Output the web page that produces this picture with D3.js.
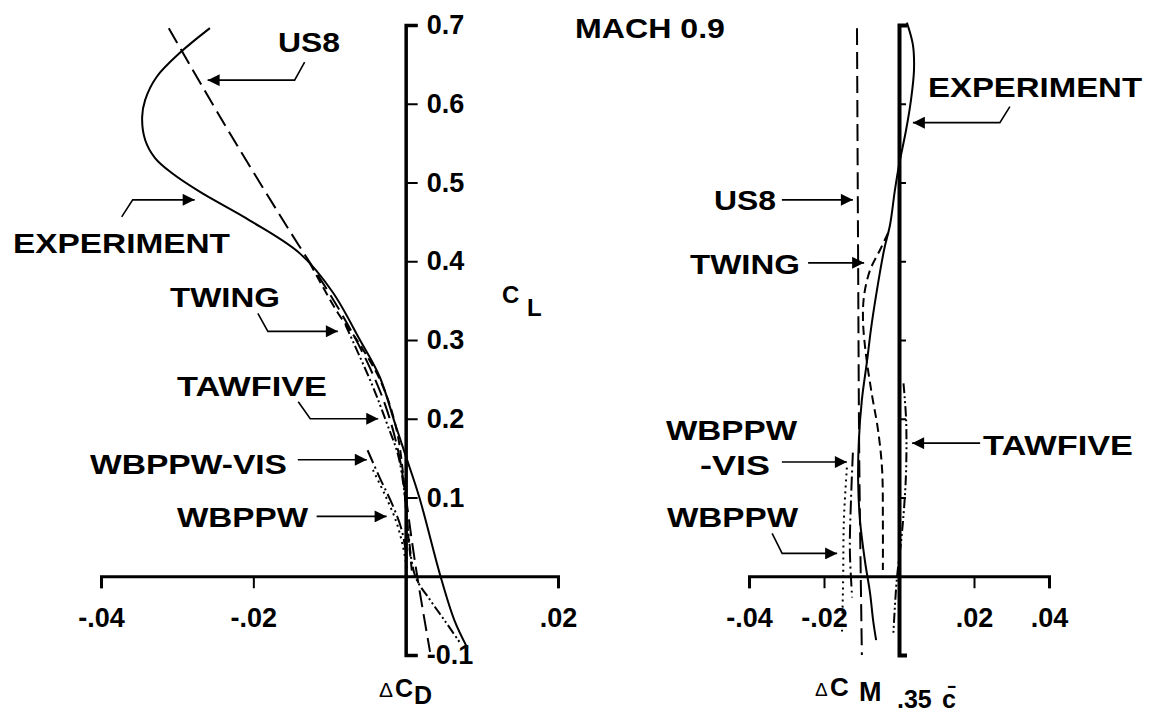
<!DOCTYPE html>
<html>
<head>
<meta charset="utf-8">
<script src="https://cdn.jsdelivr.net/npm/d3@7"></script>
<style>
body { margin: 0; background: #fff; }
text { font-family: "Liberation Sans", Arial, sans-serif; font-weight: bold; fill: #000; }
</style>
</head>
<body>
<script>
//lift axis ticks (shared by both panels)
var clTicks = [-0.1, 0.1, 0.2, 0.3, 0.4, 0.5, 0.6, 0.7];
var cdTicks = [-0.04, -0.02, 0.02];
var cmTicks = [-0.04, -0.02, 0.02, 0.04];

//left panel: [delta CD, CL]
var dragExperiment = [[-0.0257,0.696],[-0.0296,0.665],[-0.0327,0.634],[-0.0342,0.605],[-0.0346,0.583],[-0.0342,0.554],[-0.0329,0.531],[-0.0307,0.512],[-0.0270,0.488],[-0.0205,0.452],[-0.0139,0.410],[-0.0096,0.361],[-0.0060,0.300],[-0.0034,0.253],[-0.0014,0.194],[-0.0001,0.156],[0.0018,0.100],[0.0046,-0.001],[0.0064,-0.056],[0.0081,-0.091]];
var dragUS8 = [[-0.0311,0.696],[-0.0241,0.579],[-0.0161,0.452],[-0.0087,0.338],[-0.0052,0.275],[-0.0027,0.218],[-0.0010,0.160],[-0.0001,0.109],[0.0008,0.046],[0.0016,-0.005],[0.0032,-0.096]];
var dragTWING = [[-0.0126,0.398],[-0.0090,0.336],[-0.0060,0.294],[-0.0037,0.256],[-0.0021,0.218],[-0.0010,0.177],[-0.0004,0.135],[0.0000,0.090],[0.0004,0.046],[0.0009,-0.001]];
var dragTAWFIVE = [[-0.0079,0.319],[-0.0044,0.243],[-0.0025,0.195],[-0.0010,0.154],[-0.0002,0.109],[0.0003,0.059],[0.0013,-0.001],[0.0032,-0.030],[0.0051,-0.056],[0.0071,-0.084]];
var dragWBPPWVIS = [[-0.0050,0.160],[-0.0034,0.125],[-0.0017,0.090],[-0.0005,0.058],[0.0002,0.020]];
var dragWBPPW = [[-0.0043,0.135],[-0.0027,0.103],[-0.0013,0.071],[-0.0004,0.040],[0.0002,0.008]];

//right panel: [delta CM .35c, CL]
var momExperiment = [[0.0021,0.703],[0.0037,0.675],[0.0040,0.643],[0.0032,0.605],[0.0019,0.567],[0.0000,0.522],[-0.0011,0.490],[-0.0024,0.446],[-0.0040,0.414],[-0.0061,0.357],[-0.0075,0.313],[-0.0085,0.274],[-0.0099,0.224],[-0.0107,0.173],[-0.0109,0.122],[-0.0104,0.071],[-0.0091,0.020],[-0.0077,-0.022],[-0.0069,-0.056],[-0.0061,-0.081]];
var momUS8 = [[-0.0112,0.696],[-0.0109,0.400],[-0.0106,0.150],[-0.0102,0.000],[-0.0099,-0.100]];
var momTWING = [[-0.0029,0.436],[-0.0051,0.414],[-0.0077,0.389],[-0.0093,0.357],[-0.0096,0.325],[-0.0088,0.281],[-0.0072,0.230],[-0.0056,0.186],[-0.0045,0.135],[-0.0043,0.071],[-0.0043,0.008]];
var momTAWFIVE = [[0.0012,0.245],[0.0019,0.198],[0.0019,0.135],[0.0014,0.090],[0.0006,0.046],[-0.0006,-0.005],[-0.0015,-0.072]];
var momWBPPWVIS = [[-0.0123,0.157],[-0.0128,0.097],[-0.0131,0.033],[-0.0125,-0.027]];
var momWBPPW = [[-0.0139,0.138],[-0.0147,0.071],[-0.0149,-0.005],[-0.0152,-0.072]];

window.onload = function(){

    var w = 1150,
        h = 715;

    var svg = d3.select("body")
        .append("svg")
        .attr("width", w)
        .attr("height", h);

    //arrow head
    svg.append("defs").append("marker")
        .attr("id", "head")
        .attr("viewBox", "0 0 10 10")
        .attr("refX", 10)
        .attr("refY", 5)
        .attr("markerWidth", 18)
        .attr("markerHeight", 12)
        .attr("markerUnits", "userSpaceOnUse")
        .attr("orient", "auto")
        .append("path")
        .attr("d", "M0,0L10,5L0,10z")
        .style("fill", "#000");

    //scales
    var y = d3.scaleLinear().domain([-0.1, 0.7]).range([655, 25]);
    var xL = d3.scaleLinear().domain([-0.04, 0.02]).range([101, 558]);
    var xR = d3.scaleLinear().domain([-0.04, 0.04]).range([749, 1049]);

    var fmt = function(d){
        return (d < 0 ? "-" : "") + d3.format(".2f")(Math.abs(d)).replace(/^0/, "");
    };

    function styleAxis(g, width, size){
        g.select(".domain").style("stroke-width", width);
        g.selectAll(".tick line").style("stroke-width", 2);
        g.selectAll("text")
            .attr("font-size", size)
            .attr("font-family", "Liberation Sans, Arial, sans-serif")
            .attr("font-weight", "bold");
    }

    //left panel axes
    var gyL = svg.append("g")
        .attr("transform", "translate(" + xL(0) + ",0)")
        .call(d3.axisRight(y).tickValues(clTicks).tickSize(12).tickSizeOuter(12).tickPadding(9)
            .tickFormat(function(d){ return d3.format(".1f")(d).replace("−", "-"); }));
    styleAxis(gyL, 3.5, 27);

    var gxL = svg.append("g")
        .attr("transform", "translate(0," + y(0) + ")")
        .call(d3.axisBottom(xL).tickValues(cdTicks).tickSize(12).tickSizeOuter(12).tickPadding(20).tickFormat(fmt));
    styleAxis(gxL, 3, 27);

    //right panel axes
    var gyR = svg.append("g")
        .attr("transform", "translate(" + xR(0) + ",0)")
        .call(d3.axisRight(y).tickValues([0.1, 0.2, 0.3, 0.4, 0.5, 0.6]).tickSize(7).tickSizeOuter(8).tickFormat(""));
    styleAxis(gyR, 4, 27);

    var gxR = svg.append("g")
        .attr("transform", "translate(0," + y(0) + ")")
        .call(d3.axisBottom(xR).tickValues(cmTicks).tickSize(12).tickSizeOuter(12).tickPadding(20).tickFormat(fmt));
    styleAxis(gxR, 3, 27);

    //curves
    var series = [
        {d: dragExperiment, x: xL, dash: null},
        {d: dragUS8, x: xL, dash: "17,7"},
        {d: dragTWING, x: xL, dash: "9,5"},
        {d: dragTAWFIVE, x: xL, dash: "10,3,2,3,2,3"},
        {d: dragWBPPWVIS, x: xL, dash: "14,4,2,4"},
        {d: dragWBPPW, x: xL, dash: "2,4"},
        {d: momExperiment, x: xR, dash: null},
        {d: momUS8, x: xR, dash: "17,7"},
        {d: momTWING, x: xR, dash: "9,5"},
        {d: momTAWFIVE, x: xR, dash: "10,3,2,3,2,3"},
        {d: momWBPPWVIS, x: xR, dash: "14,4,2,4"},
        {d: momWBPPW, x: xR, dash: "2,4"}
    ];

    svg.selectAll(".curve")
        .data(series)
        .enter()
        .append("path")
        .attr("class", "curve")
        .attr("d", function(s){
            return d3.line()
                .x(function(p){ return s.x(p[0]); })
                .y(function(p){ return y(p[1]); })
                .curve(d3.curveCatmullRom)(s.d);
        })
        .style("fill", "none")
        .style("stroke", "#000")
        .style("stroke-width", 2)
        .style("stroke-dasharray", function(s){ return s.dash; });

    //callout arrows: tip in data units, bends as pixel offsets from the tip
    var arrows = [
        {x: xL, tip: [-0.0260, 0.630], pts: [[97,-18],[87,0],[0,0]]},
        {x: xL, tip: [-0.0277, 0.478], pts: [[-73,17],[-62,0],[0,0]]},
        {x: xL, tip: [-0.0089, 0.311], pts: [[-80,-18],[-70,0],[0,0]]},
        {x: xL, tip: [-0.0036, 0.200], pts: [[-80,-17],[-68,0],[0,0]]},
        {x: xL, tip: [-0.0051, 0.148], pts: [[-69,0],[0,0]]},
        {x: xL, tip: [-0.0025, 0.076], pts: [[-70,0],[0,0]]},
        {x: xR, tip: [0.0037, 0.576], pts: [[97,-16],[87,0],[0,0]]},
        {x: xR, tip: [-0.0123, 0.478], pts: [[-71,0],[0,0]]},
        {x: xR, tip: [-0.0093, 0.398], pts: [[-56,0],[0,0]]},
        {x: xR, tip: [-0.0139, 0.145], pts: [[-65,0],[0,0]]},
        {x: xR, tip: [-0.0165, 0.029], pts: [[-65,-20],[-55,0],[0,0]]},
        {x: xR, tip: [0.0035, 0.169], pts: [[68,0],[0,0]]}
    ];

    svg.selectAll(".arrow")
        .data(arrows)
        .enter()
        .append("path")
        .attr("class", "arrow")
        .attr("d", function(a){
            var tx = a.x(a.tip[0]), ty = y(a.tip[1]);
            return "M" + a.pts.map(function(p){ return (tx + p[0]) + "," + (ty + p[1]); }).join("L");
        })
        .attr("marker-end", "url(#head)")
        .style("fill", "none")
        .style("stroke", "#000")
        .style("stroke-width", 1.6);

    //labels [text, x, baseline, width]
    var labels = [
        ["US8", 278, 52, 62],
        ["EXPERIMENT", 13, 253, 217],
        ["TWING", 170, 307, 110],
        ["TAWFIVE", 177, 396, 150],
        ["WBPPW-VIS", 90, 474, 197],
        ["WBPPW", 177, 527, 131],
        ["MACH 0.9", 575, 38, 150],
        ["EXPERIMENT", 928, 97, 214],
        ["US8", 714, 210, 62],
        ["TWING", 690, 274, 110],
        ["WBPPW", 666, 440, 131],
        ["-VIS", 700, 475, 70],
        ["WBPPW", 667, 527, 131],
        ["TAWFIVE", 983, 455, 150]
    ];

    svg.selectAll(".label")
        .data(labels)
        .enter()
        .append("text")
        .attr("class", "label")
        .attr("x", function(d){ return d[1]; })
        .attr("y", function(d){ return d[2]; })
        .attr("textLength", function(d){ return d[3]; })
        .attr("lengthAdjust", "spacingAndGlyphs")
        .style("font-size", "28px")
        .text(function(d){ return d[0]; });

    //axis titles
    var titles = [
        ["C", 502, 303, 24, "bold"],
        ["L", 527, 316, 24, "bold"],
        ["\u0394", 379, 697, 21, "normal"],
        ["C", 395, 697, 25, "bold"],
        ["D", 414, 704, 25, "bold"],
        ["\u0394", 815, 696, 19, "normal"],
        ["C", 830, 696, 26, "bold"],
        ["M", 859, 701, 27, "bold"],
        [".35", 897, 708, 25, "bold"],
        ["c\u0304", 942, 708, 25, "bold"]
    ];

    svg.selectAll(".title")
        .data(titles)
        .enter()
        .append("text")
        .attr("class", "title")
        .attr("x", function(d){ return d[1]; })
        .attr("y", function(d){ return d[2]; })
        .style("font-size", function(d){ return d[3] + "px"; })
        .style("font-weight", function(d){ return d[4]; })
        .text(function(d){ return d[0]; });
};
</script>
</body>
</html>
